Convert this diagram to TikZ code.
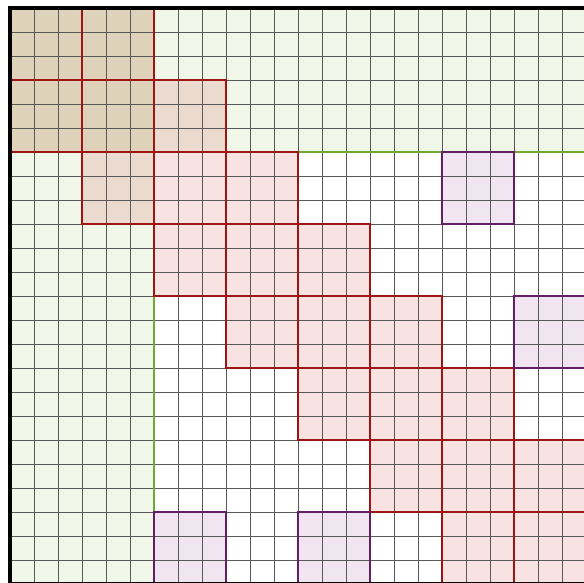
\documentclass[tikz,border=0pt]{standalone}
\usepackage{xcolor}
\usepackage{tikz}
\definecolor{bandgreen}{RGB}{88,155,0}
\definecolor{bandline}{RGB}{112,170,50}
\definecolor{blockred}{RGB}{194,0,0}
\definecolor{blockline}{RGB}{160,20,20}
\definecolor{farpurple}{RGB}{128,0,128}
\definecolor{farline}{RGB}{100,30,100}

\begin{document}
\begin{tikzpicture}[scale=0.5, yscale=-1,
  bandfill/.style={fill=bandgreen, fill opacity=0.09},
  bandedge/.style={draw=bandline, line width=0.9pt},
  redfill/.style={fill=blockred, fill opacity=0.114},
  rededge/.style={draw=blockline, line width=0.9pt},
  farfill/.style={fill=farpurple, fill opacity=0.1},
  faredge/.style={draw=farline, line width=0.9pt},
  cellgrid/.style={draw=black!65, line width=0.35pt}]
  \clip (-0.4167,-0.333) rectangle (23.917,23.958);

  % Border bands (first two block rows and columns)
  \fill[bandfill] (0,0) rectangle (24,6);
  \fill[bandfill] (0,0) rectangle (6,24);

  % Tridiagonal blocks
  \foreach \r in {0,...,7} \foreach \d in {-1,0,1} {
    \pgfmathtruncatemacro\c{\r+\d}
    \ifnum\c>-1 \ifnum\c<8
      \fill[redfill] (3*\c,3*\r) rectangle ++(3,3);
    \fi\fi
  }

  % Far off-diagonal blocks
  \foreach \r/\c in {2/6, 4/7, 7/2, 7/4}
    \fill[farfill] (3*\c,3*\r) rectangle ++(3,3);

  % Cell grid
  \draw[cellgrid] (0,0) grid (24,24);

  % Block outlines
  \draw[bandedge] (0,0) rectangle (24,6);
  \draw[bandedge] (0,0) rectangle (6,24);
  \foreach \r in {0,...,7} \foreach \d in {-1,0,1} {
    \pgfmathtruncatemacro\c{\r+\d}
    \ifnum\c>-1 \ifnum\c<8
      \draw[rededge] (3*\c,3*\r) rectangle ++(3,3);
    \fi\fi
  }
  \foreach \r/\c in {2/6, 4/7, 7/2, 7/4}
    \draw[faredge] (3*\c,3*\r) rectangle ++(3,3);

  % Matrix frame
  \draw[line width=1.8pt] (0,0) rectangle (24,24);
\end{tikzpicture}
\end{document}
